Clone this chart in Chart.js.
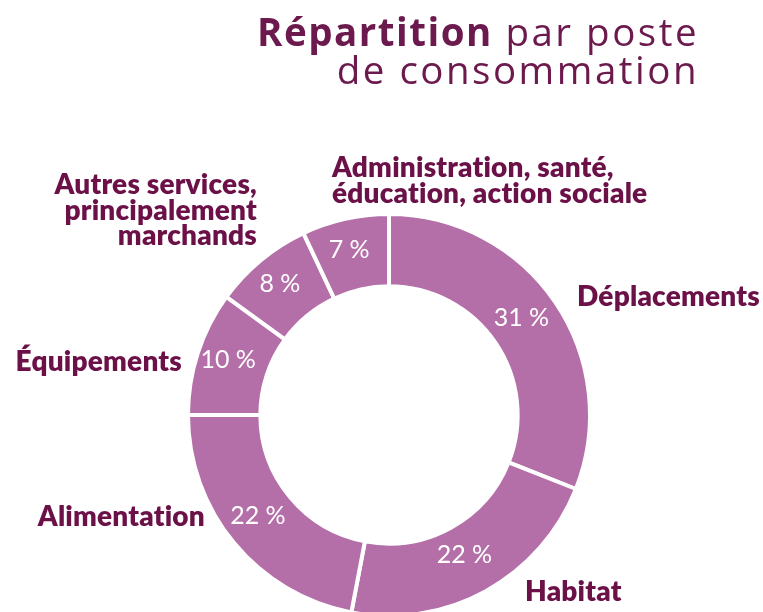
<!DOCTYPE html>
<html>
<head>
<meta charset="utf-8">
<script src="https://cdn.jsdelivr.net/npm/chart.js@4.4.1/dist/chart.umd.min.js"></script>
<style>
  html, body { margin: 0; padding: 0; background: #ffffff; }
  #wrap { position: relative; width: 763px; height: 612px; }
</style>
</head>
<body>
<div id="wrap"><canvas id="chart" width="763" height="612"></canvas></div>
<script>
const categories = ['Déplacements', 'Habitat', 'Alimentation', 'Équipements',
  'Autres services, principalement marchands', 'Administration, santé, éducation, action sociale'];
const shares = [31, 22, 22, 10, 8, 7];
const labelLines = [
  ['Déplacements'],
  ['Habitat'],
  ['Alimentation'],
  ['Équipements'],
  ['Autres services,', 'principalement', 'marchands'],
  ['Administration, santé,', 'éducation, action sociale']
];

// where the outside labels sit (anchor x, first baseline y, alignment)
const labelLayout = [
  { x: 577, y: 306, align: 'left' },
  { x: 525, y: 601, align: 'left' },
  { x: 205, y: 526, align: 'right' },
  { x: 182, y: 371, align: 'right' },
  { x: 257, y: 194, align: 'right' },
  { x: 332, y: 177, align: 'left' }
];
const lineHeight = 25.5;

const ringColor = '#b46ea8';
const darkColor = '#6b1148';
const titleColor = '#6c1a4e';
const fontFamily = 'Lato, "Open Sans", sans-serif';
const titleFamily = '"Open Sans", Lato, sans-serif';

const labelsPlugin = {
  id: 'labels',
  afterDatasetsDraw(chart) {
    const ctx = chart.ctx;
    const meta = chart.getDatasetMeta(0);
    ctx.save();

    // percentages inside the ring
    ctx.fillStyle = '#ffffff';
    ctx.font = '400 25px ' + fontFamily;
    ctx.textAlign = 'center';
    ctx.textBaseline = 'middle';
    meta.data.forEach((arc, i) => {
      const p = arc.tooltipPosition();
      ctx.fillText(shares[i] + '\u202f%', p.x - 4, p.y - 4);
    });

    // category labels outside (tiny spacing keeps the "ti" ligature off)
    ctx.fillStyle = darkColor;
    ctx.textBaseline = 'alphabetic';
    ctx.letterSpacing = '0.2px';
    ctx.font = '800 28px ' + fontFamily;
    labelLines.forEach((lines, i) => {
      const lay = labelLayout[i];
      ctx.textAlign = lay.align;
      lines.forEach((line, j) => {
        ctx.fillText(line, lay.x, lay.y + j * lineHeight);
      });
    });

    // title, right aligned
    ctx.fillStyle = titleColor;
    ctx.textAlign = 'left';
    ctx.letterSpacing = '2.5px';
    const right = 699;
    ctx.font = '400 38.5px ' + titleFamily;
    const rest = ' par poste';
    const restW = ctx.measureText(rest).width;
    ctx.font = '700 38.5px ' + titleFamily;
    ctx.letterSpacing = '1.5px';
    const boldW = ctx.measureText('Répartition').width;
    ctx.fillText('Répartition', right - restW - boldW, 46);
    ctx.letterSpacing = '2.5px';
    ctx.font = '400 38.5px ' + titleFamily;
    ctx.fillText(rest, right - restW, 46);
    ctx.textAlign = 'right';
    ctx.fillText('de consommation', right, 84);

    ctx.restore();
  }
};

new Chart(document.getElementById('chart'), {
  type: 'doughnut',
  data: {
    labels: categories,
    datasets: [{
      data: shares,
      backgroundColor: ringColor,
      borderColor: '#ffffff',
      borderWidth: 4,
      hoverOffset: 0,
      clip: false
    }]
  },
  options: {
    responsive: false,
    animation: false,
    radius: 201,
    cutout: '64%',
    layout: { padding: { top: 218, bottom: 0, left: 15, right: 0 } },
    plugins: {
      legend: { display: false },
      tooltip: { enabled: false }
    }
  },
  plugins: [labelsPlugin]
});
</script>
</body>
</html>
